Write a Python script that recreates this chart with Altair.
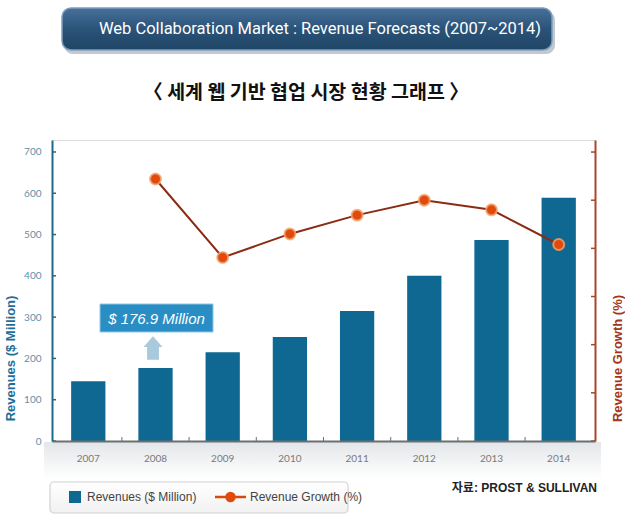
import altair as alt
import pandas as pd

# ---- data ----
years = ["2007", "2008", "2009", "2010", "2011", "2012", "2013", "2014"]
revenues = [145, 176.9, 215, 252, 315, 400, 487, 589]
growth = [None, 54.4, 38.1, 43.0, 46.9, 50.0, 48.0, 40.8]
rev_ticks = [0, 100, 200, 300, 400, 500, 600, 700]
growth_ticks = [0, 10, 20, 30, 40, 50, 60]

title_text = "Web Collaboration Market : Revenue Forecasts (2007~2014)"
subtitle_text = "〈 세계 웹 기반 협업 시장 현황 그래프 〉"
source_text = "자료: PROST & SULLIVAN"
annot_text = "$ 176.9 Million"
legend_bar = "Revenues ($ Million)"
legend_line = "Revenue  Growth (%)"

W, H = 543, 301

df = pd.DataFrame({"year": years, "revenue": revenues, "growth": growth})
dline = df.dropna()
drev_ticks = pd.DataFrame({"v": rev_ticks})
dg_ticks = pd.DataFrame({"v": growth_ticks})
dbound = pd.DataFrame({"year": years[:-1]})
one = pd.DataFrame({"a": [0]})

BLUE = "#0e6892"
RED_AXIS = "#a8472a"
LINE = "#8c2b14"

xscale = alt.Scale(domain=years, paddingInner=0.49, paddingOuter=0.285)
yL = alt.Scale(domain=[0, 729], nice=False, zero=True)
yR = alt.Scale(domain=[0, 62.5], nice=False, zero=True)

xaxis = alt.Axis(
    title=None, labelAngle=0, labelColor="#7a7a7a", labelFontSize=10, labelFont="Lato",
    labelPadding=12, domainColor="#6e6e6e", domainWidth=2, ticks=False, zindex=2)

grad_band = alt.Gradient(
    gradient="linear",
    stops=[alt.GradientStop(color="#e3e6e9", offset=0), alt.GradientStop(color="#ffffff", offset=1)],
    x1=0, x2=0, y1=0, y2=1,
)
band = alt.Chart(one).mark_rect(color=grad_band).encode(
    x=alt.value(-8), x2=alt.value(W + 6), y=alt.value(H + 1), y2=alt.value(H + 38)
)

bars = alt.Chart(df).mark_bar(color=BLUE).encode(
    x=alt.X("year:N", scale=xscale, sort=years, axis=xaxis),
    y=alt.Y("revenue:Q", scale=yL, axis=alt.Axis(
        values=rev_ticks, title="Revenues ($ Million)", titleFont="Liberation Sans",
        titleFontSize=13, titleFontWeight="bold", titleColor="#1f6e98", titleAngle=270,
        titleX=-42, titleY=218, titleAlign="center", titleBaseline="middle",
        labelColor="#5f8ea8", labelFontSize=10, labelFont="Lato", labelPadding=11,
        domainColor="#1d6a8c", domainWidth=2, ticks=False, grid=False, orient="left", zindex=2)),
)

left_ticks = alt.Chart(drev_ticks).mark_rule(color="#1d6a8c", strokeWidth=1.5).encode(
    y=alt.Y("v:Q", scale=yL, axis=None), x=alt.value(0), x2=alt.value(4)
)

xticks = alt.Chart(dbound).mark_rule(color="#6e6e6e", strokeWidth=1, xOffset=33.6).encode(
    x=alt.X("year:N", scale=xscale, sort=years, axis=xaxis), y=alt.value(H - 4), y2=alt.value(H)
)

line = alt.Chart(dline).mark_line(color=LINE, strokeWidth=2).encode(
    x=alt.X("year:N", scale=xscale, sort=years, axis=xaxis),
    y=alt.Y("growth:Q", scale=yR, axis=alt.Axis(
        orient="right", values=growth_ticks, labels=False, ticks=False, grid=False,
        domainColor=RED_AXIS, domainWidth=2, title="Revenue  Growth (%)",
        titleFont="Liberation Sans", titleFontSize=13, titleFontWeight="bold",
        titleColor="#a3361a", titleAngle=270, titleX=22, titleY=218,
        titleAlign="center", titleBaseline="middle", zindex=2)),
)
points = alt.Chart(dline).mark_point(
    filled=True, fill="#e04a0c", size=120, stroke="#f3a56e", strokeWidth=2, strokeOpacity=0.8, opacity=1
).encode(
    x=alt.X("year:N", scale=xscale, sort=years, axis=xaxis),
    y=alt.Y("growth:Q", scale=yR, axis=None),
)
right_ticks = alt.Chart(dg_ticks).mark_rule(color=RED_AXIS, strokeWidth=1.5).encode(
    y=alt.Y("v:Q", scale=yR, axis=None), x=alt.value(W - 4), x2=alt.value(W)
)

# annotation
annot_box = alt.Chart(one).mark_rect(color="#2a8ec4", stroke="#8cc8e6", strokeWidth=1).encode(
    x=alt.value(48), x2=alt.value(161), y=alt.value(164), y2=alt.value(192)
)
annot_txt = alt.Chart(one).mark_text(
    text=annot_text, color="white", fontSize=15, fontStyle="italic", font="Liberation Sans",
    align="center", baseline="middle"
).encode(x=alt.value(104.5), y=alt.value(178.5))
arrow = alt.Chart(one).mark_point(
    shape="M 0 -1 L 0.8 -0.08 L 0.5 -0.08 L 0.5 1 L -0.5 1 L -0.5 -0.08 L -0.8 -0.08 Z",
    filled=True, color="#a9c9dc", size=560, opacity=1
).encode(x=alt.value(101), y=alt.value(208))

# title banner
shadow = alt.Chart(one).mark_rect(color="#9aa3ab", opacity=0.6, cornerRadius=9).encode(
    x=alt.value(12), x2=alt.value(503), y=alt.value(-129), y2=alt.value(-86)
)
grad_banner = alt.Gradient(
    gradient="linear",
    stops=[alt.GradientStop(color="#47709a", offset=0), alt.GradientStop(color="#2b5378", offset=0.5),
           alt.GradientStop(color="#1f4566", offset=1)],
    x1=0, x2=0, y1=0, y2=1,
)
banner = alt.Chart(one).mark_rect(color=grad_banner, cornerRadius=9, stroke="#7f9fbf", strokeWidth=1.5).encode(
    x=alt.value(10), x2=alt.value(500), y=alt.value(-132), y2=alt.value(-90)
)
banner_txt = alt.Chart(one).mark_text(
    text=title_text, color="white", fontSize=16.5,
    font="Roboto",
    align="center", baseline="middle"
).encode(x=alt.value(268), y=alt.value(-111))
subtitle = alt.Chart(one).mark_text(
    text=subtitle_text, color="#111111", fontSize=19.5, fontWeight="bold",
    font="Noto Sans CJK KR", align="center", baseline="middle"
).encode(x=alt.value(254), y=alt.value(-47))

# legend
grad_leg = alt.Gradient(
    gradient="linear",
    stops=[alt.GradientStop(color="#ffffff", offset=0), alt.GradientStop(color="#f1f1f1", offset=1)],
    x1=0, x2=0, y1=0, y2=1,
)
leg_box = alt.Chart(one).mark_rect(color=grad_leg, stroke="#d2d2d2", strokeWidth=1.2, cornerRadius=4).encode(
    x=alt.value(-2), x2=alt.value(296), y=alt.value(342), y2=alt.value(373)
)
leg_sq = alt.Chart(one).mark_rect(color=BLUE).encode(
    x=alt.value(17), x2=alt.value(29), y=alt.value(351), y2=alt.value(363)
)
leg_t1 = alt.Chart(one).mark_text(
    text=legend_bar, color="#444444", fontSize=12, font="Liberation Sans", align="left", baseline="middle"
).encode(x=alt.value(35), y=alt.value(357))
leg_line = alt.Chart(one).mark_rule(color="#d9480f", strokeWidth=2.5).encode(
    x=alt.value(163), x2=alt.value(194), y=alt.value(357)
)
leg_pt = alt.Chart(one).mark_point(filled=True, fill="#e04a0c", size=110, opacity=1).encode(
    x=alt.value(178.5), y=alt.value(357)
)
leg_t2 = alt.Chart(one).mark_text(
    text=legend_line, color="#444444", fontSize=12, font="Liberation Sans", align="left", baseline="middle"
).encode(x=alt.value(198), y=alt.value(357))
source = alt.Chart(one).mark_text(
    text=source_text, color="#222222", fontSize=12, fontWeight="bold", font="Liberation Sans, Noto Sans CJK KR",
    align="right", baseline="middle"
).encode(x=alt.value(545), y=alt.value(348))

chart = alt.layer(
    band, bars, left_ticks, xticks, annot_box, annot_txt, arrow,
    line, points, right_ticks,
    shadow, banner, banner_txt, subtitle,
    leg_box, leg_sq, leg_t1, leg_line, leg_pt, leg_t2, source,
).resolve_scale(y="independent").properties(
    width=W, height=H,
    autosize=alt.AutoSizeParams(type="none"),
    padding={"left": 52, "top": 140, "right": 30, "bottom": 74},
).configure_view(stroke=None).configure(background="white")

chart.save("out.html", embed_options={"renderer": "svg", "actions": False})
